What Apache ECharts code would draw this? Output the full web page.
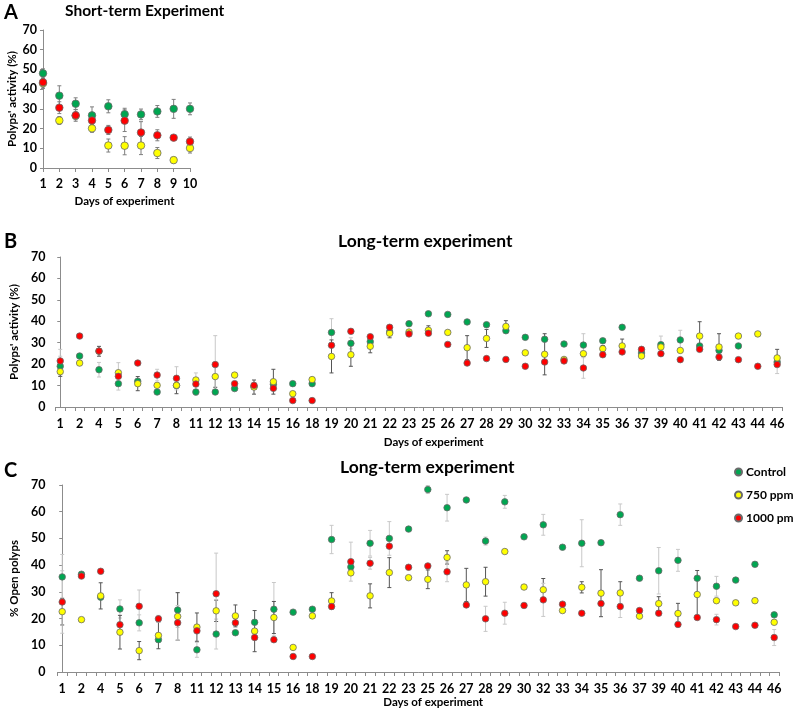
<!DOCTYPE html>
<html>
<head>
<meta charset="utf-8">
<script src="https://cdn.jsdelivr.net/npm/echarts@6/dist/echarts.min.js"></script>
<style>
	html, body { margin: 0; padding: 0; background: #fff; }
	#chart { width: 795px; height: 713px; }
</style>
</head>
<body>
<div id="chart"></div>
<script>

// Panel A: short-term experiment, polyps' activity (%)
var shortDays = [1, 2, 3, 4, 5, 6, 7, 8, 9, 10];
var shortControl = [48.0, 36.7, 32.6, 26.7, 31.3, 27.3, 27.2, 28.7, 30.0, 30.0];
var short750 = [43.0, 24.1, 26.5, 20.1, 11.4, 11.3, 11.4, 7.6, 4.0, 10.1];
var short1000 = [43.5, 30.6, 26.7, 24.1, 19.3, 24.0, 18.0, 16.6, 15.4, 13.4];
var shortControlErr = [2.3, 5.0, 3.0, 4.3, 3.3, 3.0, 2.7, 3.0, 4.8, 3.0];
var short750Err = [2.5, 2.0, 2.0, 2.0, 3.3, 4.6, 4.6, 2.8, 1.5, 2.5];
var short1000Err = [3.0, 3.0, 3.0, 2.0, 2.3, 5.5, 5.5, 2.8, 1.0, 2.3];

// Panels B and C share the sampled days
var longDays = [1, 2, 4, 5, 6, 7, 8, 11, 12, 13, 14, 15, 16, 18, 19, 20, 21, 22, 23, 25,
	26, 27, 28, 29, 30, 32, 33, 34, 35, 36, 37, 39, 40, 41, 42, 43, 44, 46];

// Panel B: long-term experiment, polyps' activity (%)
var actControl = [19.0, 23.8, 17.4, 10.9, 12.0, 7.0, 10.0, 7.0, 7.0, 8.6,
	9.6, 10.6, 10.9, 10.9, 34.8, 29.7, 30.5, 35.0, 38.9, 43.5,
	43.2, 39.7, 38.4, 35.6, 32.5, 31.6, 29.4, 28.9, 30.9, 37.2,
	25.2, 29.1, 31.3, 28.5, 26.4, 28.5, null, 21.0];
var act750 = [16.5, 20.5, 26.0, 16.0, 10.9, 10.1, 10.1, 12.6, 14.2, 14.9,
	9.3, 11.8, 6.2, 12.8, 23.6, 24.4, 28.3, 34.4, 35.0, 35.8,
	34.8, 27.7, 32.0, 37.6, 25.3, 24.6, 22.2, 24.9, 27.2, 28.5,
	23.8, 28.0, 26.4, 33.1, 28.0, 33.1, 34.1, 22.9];
var act1000 = [21.5, 33.1, 26.1, 14.3, 20.5, 14.9, 13.4, 10.7, 19.8, 10.9,
	10.1, 8.7, 3.0, 3.0, 28.8, 35.3, 32.8, 37.2, 34.1, 34.4,
	29.2, 20.5, 22.6, 22.2, 19.0, 21.0, 21.5, 18.2, 24.4, 25.7,
	26.9, 24.9, 22.1, 26.9, 23.3, 22.1, 19.0, 19.8];
var actControlErr = [4.7, null, 3.4, null, null, null, null, null, null, null,
	null, null, null, null, 6.4, 2.6, null, null, null, null,
	null, null, null, null, null, null, null, 5.3, null, null,
	null, 4.0, 4.5, null, null, null, null, null];
var act750Err = [2.2, null, 2.3, null, 3.3, null, 3.9, null, 5.0, null,
	3.3, 5.8, null, null, 7.7, 5.4, 3.0, 2.1, null, 2.1,
	null, 5.6, 4.2, 2.7, null, 9.6, null, null, 1.5, 3.2,
	null, null, null, 6.7, 6.2, null, null, 4.0];
var act1000Err = [5.4, null, null, 6.4, null, 2.7, 5.4, 5.2, 13.5, null,
	null, null, null, null, null, null, null, null, null, null,
	null, null, null, null, null, null, null, 4.8, null, null,
	null, null, null, null, null, null, null, 4.2];

// Panel C: long-term experiment, % open polyps
var openControl = [35.6, 36.6, 28.0, 23.6, 18.4, 12.1, 23.2, 8.3, 14.2, 14.7,
	18.6, 23.5, 22.4, 23.5, 49.6, 39.3, 48.2, 50.0, 53.5, 68.3,
	61.5, 64.4, 49.0, 63.7, 50.6, 55.1, 46.7, 48.2, 48.4, 58.9,
	35.1, 37.9, 41.8, 35.1, 32.1, 34.4, 40.3, 21.4];
var open750 = [22.6, 19.6, 28.5, 14.9, 8.0, 13.7, 20.8, 16.8, 22.9, 21.0,
	15.3, 20.4, 9.2, 21.0, 26.6, 37.1, 28.5, 37.2, 35.3, 34.7,
	42.9, 32.6, 33.8, 45.1, 31.8, 30.8, 23.0, 31.7, 29.5, 29.6,
	20.9, 25.6, 21.9, 29.0, 26.7, 25.9, 26.7, 18.6];
var open1000 = [26.2, 35.9, 37.7, 17.7, 24.6, 19.9, 18.4, 15.4, 29.3, 18.4,
	12.9, 12.1, 5.8, 5.8, 24.5, 41.3, 40.7, 47.1, 39.2, 39.7,
	37.5, 25.1, 19.9, 22.0, 24.9, 27.0, 25.4, 22.0, 25.6, 24.5,
	23.0, 22.0, 17.8, 20.4, 19.6, 17.0, 17.5, 12.9];
var openControlErr = [8.4, null, null, 3.4, 3.0, null, 6.5, 2.8, 5.6, null,
	null, 10.0, null, null, 5.3, null, 4.8, 6.3, null, 1.5,
	5.0, null, 1.5, 2.4, null, 3.9, null, 8.8, null, 4.0,
	null, 8.7, 4.1, null, 3.7, null, null, null];
var open750Err = [5.0, null, 4.9, 6.3, 3.4, 5.0, 8.9, 5.3, 4.0, 4.1,
	7.7, 6.0, null, null, 3.1, null, 4.5, 5.6, null, 3.5,
	2.5, 6.2, 5.4, null, null, 4.2, null, 2.1, 8.8, 4.2,
	null, 2.6, 3.8, 9.0, null, null, null, null];
var open1000Err = [11.7, null, null, null, 6.1, 1.3, 6.5, null, 15.2, null,
	null, null, null, null, null, 7.3, 2.2, null, null, null,
	3.7, null, 4.7, 4.1, null, 6.2, null, null, null, 4.1,
	null, null, null, null, 2.0, null, null, 3.0];

var seriesNames = ['Control', '750 ppm', '1000 pm'];
var seriesColors = ['#00a651', '#ffff00', '#ff0000'];

var FONT = 'Lato';
var AXIS_GREY = '#8c8c8c';
var ERR_LIGHT = '#c8c8c8';
var ERR_DARK = '#555555';
var ERR_MID = '#7f7f7f';

var myChart = echarts.init(document.getElementById('chart'), null, { renderer: 'canvas' });

function errorBar(color) {
	return function(params, api) {
		var x = api.value(0);
		var y = api.value(1);
		var e = api.value(2);
		var hi = api.coord([x, y + e]);
		var lo = api.coord([x, y - e]);
		var cap = 2;
		var style = { stroke: color, lineWidth: 1 };
		return {
			type: 'group',
			children: [
				{ type: 'line', shape: { x1: hi[0], y1: hi[1], x2: lo[0], y2: lo[1] }, style: style },
				{ type: 'line', shape: { x1: hi[0] - cap, y1: hi[1], x2: hi[0] + cap, y2: hi[1] }, style: style },
				{ type: 'line', shape: { x1: lo[0] - cap, y1: lo[1], x2: lo[0] + cap, y2: lo[1] }, style: style }
			]
		};
	};
}

// xs: x positions, groups: values + half widths per treatment
function addPanel(series, gridIndex, xs, groups, errColors, symbolSize) {
	groups.forEach((g, k) => {
		var errData = [];
		var ptData = [];
		xs.forEach((x, i) => {
			if (g.values[i] === null) return;
			ptData.push([x, g.values[i]]);
			if (g.errs[i] !== null) errData.push([x, g.values[i], g.errs[i]]);
		});
		series.push({
			name: seriesNames[k] + ' err',
			type: 'custom',
			xAxisIndex: gridIndex,
			yAxisIndex: gridIndex,
			renderItem: errorBar(errColors[k]),
			data: errData,
			z: 1,
			silent: true
		});
		series.push({
			name: seriesNames[k],
			type: 'scatter',
			xAxisIndex: gridIndex,
			yAxisIndex: gridIndex,
			symbol: 'circle',
			symbolSize: symbolSize,
			itemStyle: {
				color: seriesColors[k],
				borderColor: '#6a6a6a',
				borderWidth: 0.8,
				opacity: 1
			},
			data: ptData,
			z: 2 + k
		});
	});
}

var longIdx = longDays.map((d, i) => i);
var longTicks = [];
longIdx.forEach((i) => { longTicks.push(i - 0.25, i + 0.25); });

var labelStyle = { fontFamily: FONT, fontWeight: 'bold', fontSize: 12.5, color: '#000' };
var nameStyle = { fontFamily: FONT, fontWeight: 'bold', fontSize: 11.5, color: '#000' };

function yAxis(gridIndex, name, gap, margin) {
	return {
		type: 'value',
		gridIndex: gridIndex,
		min: 0,
		max: 70,
		interval: 10,
		name: name,
		nameLocation: 'middle',
		nameRotate: 90,
		nameGap: gap,
		nameTextStyle: nameStyle,
		axisLine: { show: true, lineStyle: { color: AXIS_GREY, width: 1 } },
		axisTick: { show: true, length: 3, lineStyle: { color: AXIS_GREY } },
		axisLabel: Object.assign({ margin: margin }, labelStyle),
		splitLine: { show: false }
	};
}

function longXAxis(gridIndex, gap) {
	return {
		type: 'value',
		gridIndex: gridIndex,
		min: -0.25,
		max: longDays.length - 0.75,
		name: 'Days of experiment',
		nameLocation: 'middle',
		nameGap: gap,
		nameTextStyle: Object.assign({ padding: [0, 0, 0, 30] }, nameStyle),
		axisLine: { show: true, onZero: false, lineStyle: { color: AXIS_GREY, width: 1 } },
		axisTick: { show: true, length: 4, customValues: longTicks, lineStyle: { color: AXIS_GREY } },
		axisLabel: Object.assign({
			margin: 10,
			customValues: longIdx,
			formatter: (v) => String(longDays[Math.round(v)])
		}, labelStyle),
		splitLine: { show: false }
	};
}

var series = [];
addPanel(series, 0, shortDays, [
	{ values: shortControl, errs: shortControlErr },
	{ values: short750, errs: short750Err },
	{ values: short1000, errs: short1000Err }
], [ERR_MID, ERR_MID, ERR_MID], 7.5);
addPanel(series, 1, longIdx, [
	{ values: actControl, errs: actControlErr },
	{ values: act750, errs: act750Err },
	{ values: act1000, errs: act1000Err }
], [ERR_LIGHT, ERR_DARK, ERR_LIGHT], 6.5);
addPanel(series, 2, longIdx, [
	{ values: openControl, errs: openControlErr },
	{ values: open750, errs: open750Err },
	{ values: open1000, errs: open1000Err }
], [ERR_LIGHT, ERR_DARK, ERR_LIGHT], 6.5);

var option = {
	backgroundColor: '#fff',
	animation: false,
	textStyle: { fontFamily: FONT },
	title: [
		{ text: 'A', left: 4, top: 3, padding: 0, textStyle: { fontFamily: FONT, fontWeight: 'bold', fontSize: 20, color: '#000' } },
		{ text: 'Short-term Experiment', left: 65, top: 3, padding: 0, textStyle: { fontFamily: FONT, fontWeight: 'bold', fontSize: 15.5, color: '#000' } },
		{ text: 'B', left: 4, top: 232, padding: 0, textStyle: { fontFamily: FONT, fontWeight: 'bold', fontSize: 20, color: '#000' } },
		{ text: 'Long-term experiment', left: 338, top: 232, padding: 0, textStyle: { fontFamily: FONT, fontWeight: 'bold', fontSize: 17.5, color: '#000' } },
		{ text: 'C', left: 4, top: 461, padding: 0, textStyle: { fontFamily: FONT, fontWeight: 'bold', fontSize: 20, color: '#000' } },
		{ text: 'Long-term experiment', left: 340, top: 458, padding: 0, textStyle: { fontFamily: FONT, fontWeight: 'bold', fontSize: 17.5, color: '#000' } }
	],
	legend: {
		data: seriesNames,
		orient: 'vertical',
		left: 734,
		top: 466,
		padding: 0,
		itemGap: 11,
		itemWidth: 7,
		itemHeight: 7,
		icon: 'circle',
		selectedMode: false,
		textStyle: { fontFamily: FONT, fontWeight: 'bold', fontSize: 12, color: '#000', padding: [0, 0, 0, -1] }
	},
	grid: [
		{ left: 43, right: 605, top: 30, bottom: 545 },
		{ left: 48, right: 13, top: 257, bottom: 306 },
		{ left: 51, right: 16, top: 485, bottom: 41 }
	],
	xAxis: [
		{
			type: 'value',
			gridIndex: 0,
			min: 1,
			max: 10,
			interval: 1,
			name: 'Days of experiment',
			nameLocation: 'middle',
			nameGap: 27,
			nameTextStyle: Object.assign({ padding: [0, 0, 0, 16] }, nameStyle),
			axisLine: { show: true, onZero: false, lineStyle: { color: AXIS_GREY, width: 1 } },
			axisTick: { show: true, length: 4, lineStyle: { color: AXIS_GREY } },
			axisLabel: Object.assign({ margin: 9 }, labelStyle),
			splitLine: { show: false }
		},
		longXAxis(1, 29),
		longXAxis(2, 24)
	],
	yAxis: [
		yAxis(0, "Polyps' activity (%)", 24, 6),
		yAxis(1, "Polyps' activity (%)", 31, 10),
		yAxis(2, '% Open polyps', 34, 12)
	],
	series: series
};

myChart.setOption(option);

</script>
</body>
</html>
